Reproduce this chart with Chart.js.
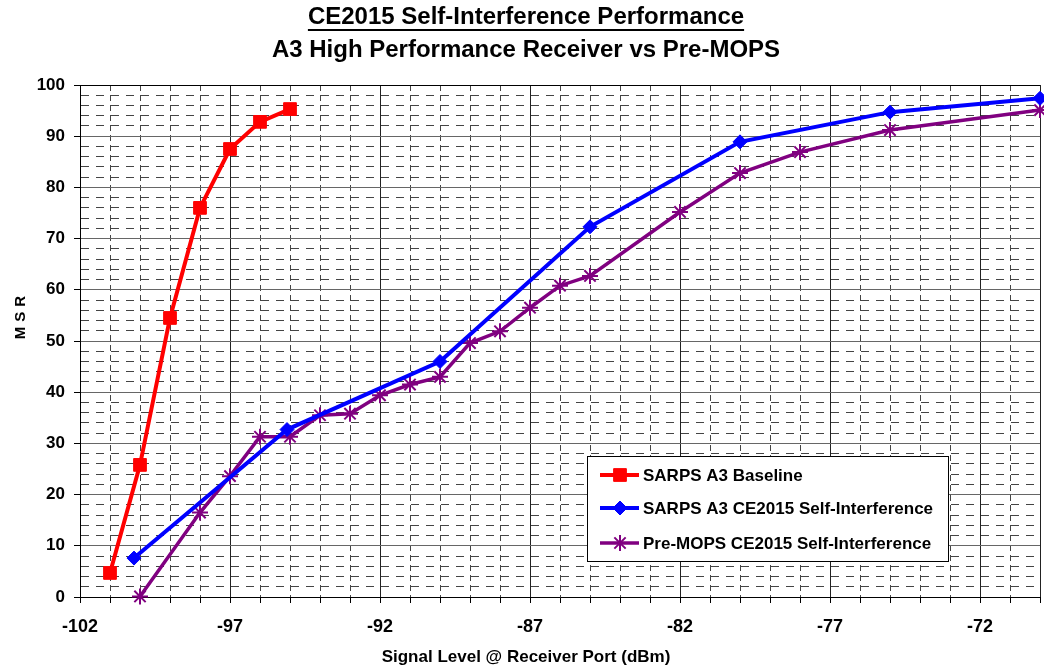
<!DOCTYPE html>
<html>
<head>
<meta charset="utf-8">
<title>CE2015 Self-Interference Performance</title>
<script src="https://cdn.jsdelivr.net/npm/chart.js@4.4.1/dist/chart.umd.min.js"></script>
<style>
  html, body { margin: 0; padding: 0; background: #fff; }
  #wrap { width: 1044px; height: 670px; }
</style>
</head>
<body>
<div id="wrap"><canvas id="msrChart" width="1044" height="670"></canvas></div>
<script>
// signal level (dBm) / MSR (%) for each curve
const baselineLevel = [-101, -100, -99, -98, -97, -96, -95];
const baselineMsr = [4.7, 25.8, 54.5, 76, 87.5, 92.8, 95.3];

const ceLevel = [-100.2, -95.1, -90, -85, -80, -75, -70];
const ceMsr = [7.6, 32.7, 46, 72.3, 88.9, 94.7, 97.4];

const mopsLevel = [-100, -98, -97, -96, -95, -94, -93, -92, -91, -90, -89, -88, -87, -86, -85, -82, -80, -78, -75, -70];
const mopsMsr = [0.1, 16.5, 23.6, 31.3, 31.3, 35.5, 35.8, 39.4, 41.5, 43, 49.6, 51.9, 56.5, 60.8, 62.7, 75.2, 82.8, 86.9, 91.2, 95.1];

const seriesNames = ['SARPS A3 Baseline', 'SARPS A3 CE2015 Self-Interference', 'Pre-MOPS CE2015 Self-Interference'];
const xTickLabels = [-102, -97, -92, -87, -82, -77, -72];
const yTickLabels = [0, 10, 20, 30, 40, 50, 60, 70, 80, 90, 100];
const titleLines = ['CE2015 Self-Interference Performance', 'A3 High Performance Receiver vs Pre-MOPS'];
const xAxisTitle = 'Signal Level @ Receiver Port (dBm)';
const yAxisTitle = 'MSR';

const FONT = '"Liberation Sans", Arial, sans-serif';

function pairUp(xs, ys) {
    return xs.map((x, i) => ({ x: x, y: ys[i] }));
}

const xMin = -102, xMax = -70;

function xSolid(v) { return xTickLabels.includes(v) || v === xMax; }
function ySolid(v) { return yTickLabels.includes(v); }

// titles, axis titles and the boxed legend
const decorations = {
    id: 'decorations',
    afterDraw(chart) {
        const ctx = chart.ctx;
        const area = chart.chartArea;
        const cx = 526;
        ctx.save();
        ctx.fillStyle = '#000';
        ctx.textAlign = 'center';
        ctx.textBaseline = 'alphabetic';
        ctx.font = 'bold 24px ' + FONT;
        ctx.fillText(titleLines[0], cx, 24);
        const w = ctx.measureText(titleLines[0]).width;
        ctx.fillRect(cx - w / 2, 29, w, 2);
        ctx.fillText(titleLines[1], cx, 57);

        ctx.font = 'bold 17px ' + FONT;
        ctx.textBaseline = 'middle';
        ctx.fillText(xAxisTitle, cx, 657);

        ctx.save();
        ctx.translate(21, 317);
        ctx.rotate(-Math.PI / 2);
        ctx.font = 'bold 15px ' + FONT;
        ctx.letterSpacing = '5px';
        ctx.fillText(yAxisTitle, 2, 0);
        ctx.restore();

        // legend box
        const lx = area.right - 453, ly = area.bottom - 141;
        ctx.fillStyle = '#fff';
        ctx.fillRect(lx, ly, 361, 105);
        ctx.strokeStyle = '#000';
        ctx.lineWidth = 1;
        ctx.setLineDash([]);
        ctx.strokeRect(lx + 0.5, ly + 0.5, 361, 105);

        const rows = [19, 52, 87];
        chart.data.datasets.forEach((ds, i) => {
            const y = ly + rows[i];
            ctx.strokeStyle = ds.borderColor;
            ctx.lineWidth = ds.borderWidth;
            ctx.beginPath();
            ctx.moveTo(lx + 13, y);
            ctx.lineTo(lx + 52, y);
            ctx.stroke();
            ctx.fillStyle = ds.pointBackgroundColor;
            ctx.strokeStyle = ds.pointBorderColor;
            ctx.lineWidth = ds.pointBorderWidth;
            Chart.helpers.drawPoint(ctx, {
                pointStyle: ds.pointStyle,
                radius: ds.pointRadius,
                rotation: 0,
                borderWidth: ds.pointBorderWidth
            }, lx + 33, y);
            ctx.fillStyle = '#000';
            ctx.textAlign = 'left';
            ctx.textBaseline = 'middle';
            ctx.font = 'bold 17px ' + FONT;
            ctx.fillText(ds.label, lx + 56, y + 1);
        });
        ctx.restore();
    }
};

new Chart(document.getElementById('msrChart'), {
    type: 'line',
    data: {
        datasets: [{
            label: seriesNames[0],
            data: pairUp(baselineLevel, baselineMsr),
            borderColor: '#ff0000',
            borderWidth: 4,
            pointStyle: 'rect',
            pointRadius: 9,
            pointBackgroundColor: '#ff0000',
            pointBorderColor: '#ff0000',
            pointBorderWidth: 1
        }, {
            label: seriesNames[1],
            data: pairUp(ceLevel, ceMsr),
            borderColor: '#0000ff',
            borderWidth: 4,
            pointStyle: 'rectRot',
            pointRadius: 7,
            pointBackgroundColor: '#0000ff',
            pointBorderColor: '#0000ff',
            pointBorderWidth: 1
        }, {
            label: seriesNames[2],
            data: pairUp(mopsLevel, mopsMsr),
            borderColor: '#800080',
            borderWidth: 3.5,
            pointStyle: 'star',
            pointRadius: 8,
            pointBackgroundColor: '#800080',
            pointBorderColor: '#800080',
            pointBorderWidth: 2
        }]
    },
    options: {
        responsive: false,
        devicePixelRatio: 1,
        animation: false,
        clip: false,
        layout: { autoPadding: false, padding: { top: 85, right: 4, left: 0, bottom: 0 } },
        elements: { line: { tension: 0 } },
        plugins: {
            legend: { display: false },
            title: { display: false },
            tooltip: { enabled: false }
        },
        scales: {
            x: {
                type: 'linear',
                min: xMin,
                max: xMax,
                afterFit: s => {
                    s.height = 73;
                    s.paddingLeft = 0;
                    s.paddingRight = 0;
                },
                ticks: {
                    stepSize: 1,
                    autoSkip: false,
                    maxRotation: 0,
                    padding: 13,
                    color: '#000',
                    font: { family: FONT, size: 18, weight: 'bold' },
                    callback: v => xTickLabels.includes(v) ? String(v) : ''
                },
                grid: {
                    color: c => xSolid(c.tick.value) ? '#222' : '#444',
                    lineWidth: 1,
                    tickLength: 6,
                    tickColor: '#000',
                    tickBorderDash: []
                },
                border: {
                    color: '#000',
                    width: 1,
                    dash: c => (c.tick && !xSolid(c.tick.value)) ? [6, 4] : []
                }
            },
            y: {
                type: 'linear',
                min: 0,
                max: 100,
                afterFit: s => {
                    s.width = 80;
                    s.paddingTop = 0;
                    s.paddingBottom = 0;
                },
                ticks: {
                    stepSize: 2,
                    autoSkip: false,
                    padding: 9,
                    color: '#000',
                    font: { family: FONT, size: 17, weight: 'bold' },
                    callback: v => yTickLabels.includes(v) ? String(v) : ''
                },
                grid: {
                    color: c => c.tick.value === 100 ? '#000' : (ySolid(c.tick.value) ? '#666' : '#444'),
                    lineWidth: 1,
                    tickLength: 6,
                    tickColor: c => ySolid(c.tick.value) ? '#000' : 'rgba(0,0,0,0)',
                    tickBorderDash: []
                },
                border: {
                    color: '#000',
                    width: 1,
                    dash: c => (c.tick && !ySolid(c.tick.value)) ? [8, 7] : []
                }
            }
        }
    },
    plugins: [decorations]
});
</script>
</body>
</html>
